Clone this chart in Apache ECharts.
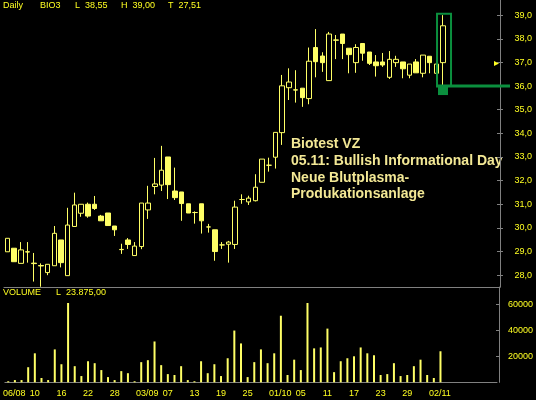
<!DOCTYPE html>
<html>
<head>
  <meta charset="utf-8">
</head>
<body style="margin: 0; background: #000">
  <div id="container" style="width: 536px; height: 400px"></div>
  <script src="https://cdn.jsdelivr.net/npm/echarts@6/dist/echarts.min.js"></script>
  <script>
    // daily candles, [open, close, low, high]
    var candles = [
      [28.99, 29.56, 28.99, 29.56], [29.14, 28.57, 28.57, 29.14], [28.50, 29.07, 28.50, 29.40], [28.99, 28.98, 28.53, 29.40],
      [28.51, 28.49, 27.73, 28.94], [28.41, 28.39, 27.51, 28.50], [28.11, 28.46, 28.00, 28.46], [28.40, 29.77, 28.40, 30.08],
      [29.49, 28.53, 28.33, 29.49], [27.98, 30.12, 27.98, 30.85], [30.06, 30.97, 30.06, 31.49], [30.62, 31.00, 30.47, 31.00],
      [31.00, 30.50, 30.43, 31.07], [31.00, 30.82, 30.76, 31.35], [30.50, 30.30, 30.30, 30.55], [30.63, 30.10, 30.10, 30.63],
      [30.08, 29.92, 29.66, 30.08], [29.09, 29.08, 28.90, 29.33], [29.49, 29.30, 29.11, 29.57], [28.83, 29.23, 28.83, 29.40],
      [29.21, 31.05, 29.10, 31.05], [30.76, 31.05, 30.38, 31.78], [31.75, 31.86, 31.42, 32.96], [31.81, 32.44, 31.56, 33.47],
      [33.00, 31.83, 31.22, 33.00], [31.56, 31.28, 31.18, 32.55], [31.52, 31.03, 30.30, 31.52], [31.02, 30.63, 30.63, 31.02],
      [30.65, 30.65, 30.18, 30.70], [31.02, 30.30, 29.76, 31.02], [30.04, 30.04, 29.80, 30.17], [29.92, 29.00, 28.61, 29.92],
      [29.28, 29.28, 29.11, 29.40], [29.31, 29.40, 28.53, 29.45], [29.30, 30.88, 29.11, 31.15], [31.20, 31.20, 31.02, 31.42],
      [31.10, 31.26, 30.97, 31.36], [31.15, 31.72, 31.12, 32.27], [31.93, 32.91, 31.93, 32.91], [32.65, 32.65, 32.38, 32.97],
      [32.99, 34.04, 32.51, 34.04], [34.03, 36.01, 33.51, 36.47], [35.93, 36.17, 35.41, 36.75], [35.84, 35.83, 35.30, 36.67],
      [35.91, 35.51, 35.12, 35.91], [35.47, 37.05, 35.23, 37.63], [37.63, 37.03, 36.37, 38.41], [37.27, 36.99, 36.60, 37.43],
      [36.23, 38.20, 36.23, 38.29], [37.95, 37.94, 37.14, 38.16], [38.20, 37.80, 37.14, 38.20], [37.60, 37.33, 36.54, 37.60],
      [36.99, 37.63, 36.56, 37.77], [37.80, 37.39, 37.07, 37.80], [37.44, 36.96, 36.89, 37.44], [37.02, 36.86, 36.40, 37.31],
      [37.02, 36.89, 36.81, 37.40], [36.37, 37.13, 36.30, 37.48], [36.99, 37.13, 36.81, 37.28], [37.02, 36.73, 36.33, 37.02],
      [36.46, 36.93, 36.33, 36.93], [37.02, 36.56, 36.56, 37.14], [36.54, 37.31, 36.37, 37.31], [37.26, 36.99, 36.54, 37.26],
      [36.54, 36.93, 36.20, 37.10], [36.99, 38.55, 36.04, 39.00]
    ];
    var volumes = [
      800, 1700, 1700, 11600, 22300, 3300, 1700, 25300, 13900, 61000, 12400, 4800, 16200, 14700, 9400, 4000,
      1700, 8600, 7000, 800, 15500, 17000, 31400, 13200, 6300, 5600, 12400, 1700, 800, 16200, 7000, 13900,
      4800, 18500, 39800, 29900, 4000, 15500, 25300, 14700, 22300, 51200, 5600, 17400, 9400, 61000, 26100, 26800,
      41300, 7800, 16200, 18500, 20000, 26800, 22300, 20800, 5600, 6300, 14700, 4800, 5600, 12400, 17400, 5600,
      3300, 23875
    ];
    var tickLabels = ['06/08', '10', '16', '22', '28', '03/09', '07', '13', '19', '25', '01/10', '05', '11', '17', '23', '29', '02/11'];
    var priceTicks = [28, 29, 30, 31, 32, 33, 34, 35, 36, 37, 38, 39];
    var volumeTicks = [20000, 40000, 60000];
    var header = [['Daily', 3], ['BIO3', 40], ['L  38,55', 75], ['H  39,00', 121], ['T  27,51', 168]];
    var volumeTitle = [['VOLUME', 3], ['L  23.875,00', 56]];
    var note = ['Biotest VZ', '05.11: Bullish Informational Day', 'Neue Blutplasma-', 'Produkationsanlage'];
    var slots = 74;
    var signalLevel = 36.0;

    var YEL = '#ffff66';
    var TXT = '#ffff22';
    var GRAY = '#808080';
    var GREEN = '#0b8f3e';
    var FONT = 'Liberation Sans';

    var cats = [];
    for (var i = 0; i < slots; i++) cats.push(String(i));
    function isTick(i) { return i % 4 === 0 && i / 4 < tickLabels.length; }

    var dom = document.getElementById('container');
    var myChart = echarts.init(dom, null, { renderer: 'canvas' });

    var option = {
      backgroundColor: '#000',
      animation: false,
      grid: [
        { left: 4, right: 36, top: 0, height: 287 },
        { left: 2, right: 38, top: 287, height: 95.3 }
      ],
      xAxis: [
        { type: 'category', gridIndex: 0, data: cats,
          axisLine: { lineStyle: { color: GRAY } }, axisTick: { show: false }, axisLabel: { show: false } },
        { type: 'category', gridIndex: 1, data: cats,
          axisLine: { lineStyle: { color: GRAY } },
          axisTick: { alignWithLabel: true, interval: function (i) { return isTick(i); }, length: 3, lineStyle: { color: GRAY } },
          axisLabel: {
            interval: function (i) { return isTick(i); },
            margin: 7, color: TXT, fontSize: 9, fontFamily: FONT,
            formatter: function (v, i) {
              var s = tickLabels[i / 4] || '';
              return s.indexOf('/') >= 0 ? '{m|' + s + '}' : s;
            },
            rich: { m: { padding: [0, 0, 0, 12], color: TXT, fontSize: 9, fontFamily: FONT } }
          } }
      ],
      yAxis: [
        { type: 'value', gridIndex: 0, position: 'right', min: 27.5, max: 39.64, scale: true,
          splitLine: { show: false },
          axisLine: { show: true, lineStyle: { color: GRAY } },
          axisTick: { show: true, inside: true, length: 3, customValues: priceTicks, lineStyle: { color: GRAY } },
          axisLabel: { customValues: priceTicks, margin: 32, align: 'right', color: TXT, fontSize: 9, fontFamily: FONT,
            formatter: function (v) { return v.toFixed(1).replace('.', ','); } } },
        { type: 'value', gridIndex: 0, position: 'right', min: 27.5, max: 39.64, scale: true,
          splitLine: { show: false }, axisLine: { show: false }, axisLabel: { show: false },
          axisTick: { show: true, length: 3, customValues: priceTicks, lineStyle: { color: GRAY } } },
        { type: 'value', gridIndex: 1, position: 'right', offset: 2, min: 0, max: 73300,
          splitLine: { show: false },
          axisLine: { show: true, lineStyle: { color: GRAY } },
          axisTick: { show: true, inside: true, length: 3, customValues: volumeTicks, lineStyle: { color: GRAY } },
          axisLabel: { customValues: volumeTicks, margin: 34, align: 'right', color: TXT, fontSize: 9, fontFamily: FONT,
            formatter: function (v) { return String(v); } } }
      ],
      series: [
        { type: 'candlestick', xAxisIndex: 0, yAxisIndex: 0, data: candles, barWidth: 5,
          itemStyle: { color: '#000', color0: YEL, borderColor: YEL, borderColor0: YEL, borderColorDoji: YEL, borderWidth: 1 } },
        { type: 'bar', xAxisIndex: 1, yAxisIndex: 2, data: volumes, barWidth: 2, itemStyle: { color: YEL } }
      ]
    };
    myChart.setOption(option);

    // overlay: header texts, note, signal box
    var g = [];
    header.forEach(function (h) {
      g.push({ type: 'text', left: h[1], top: 1, style: { text: h[0], fill: TXT, font: '9px ' + FONT } });
    });
    volumeTitle.forEach(function (h) {
      g.push({ type: 'text', left: h[1], top: 288, style: { text: h[0], fill: TXT, font: '9px ' + FONT } });
    });
    g.push({ type: 'text', left: 291, top: 136, style: { text: note.join('\n'), fill: '#f3e895',
      font: 'bold 14px ' + FONT, lineHeight: 16.7 } });

    var last = candles.length - 1;
    var xc = myChart.convertToPixel({ xAxisIndex: 0 }, last);
    var yTop = myChart.convertToPixel({ yAxisIndex: 0 }, candles[last][3]) - 1.5;
    var yLvl = myChart.convertToPixel({ yAxisIndex: 0 }, signalLevel);
    var yLast = myChart.convertToPixel({ yAxisIndex: 0 }, 36.95);
    g.push({ type: 'rect', shape: { x: xc - 6, y: yTop, width: 14, height: yLvl - yTop },
      style: { fill: 'none', stroke: GREEN, lineWidth: 2 }, z: 10 });
    g.push({ type: 'line', shape: { x1: xc - 7, y1: yLvl, x2: 510, y2: yLvl },
      style: { stroke: GREEN, lineWidth: 3 }, z: 10 });
    g.push({ type: 'rect', shape: { x: xc - 5, y: yLvl, width: 10, height: 9 },
      style: { fill: GREEN }, z: 10 });
    g.push({ type: 'polygon', shape: { points: [[494, yLast - 2.5], [499, yLast], [494, yLast + 2.5]] },
      style: { fill: TXT }, z: 10 });
    myChart.setOption({ graphic: g });

    window.addEventListener('resize', myChart.resize);
  </script>
</body>
</html>
